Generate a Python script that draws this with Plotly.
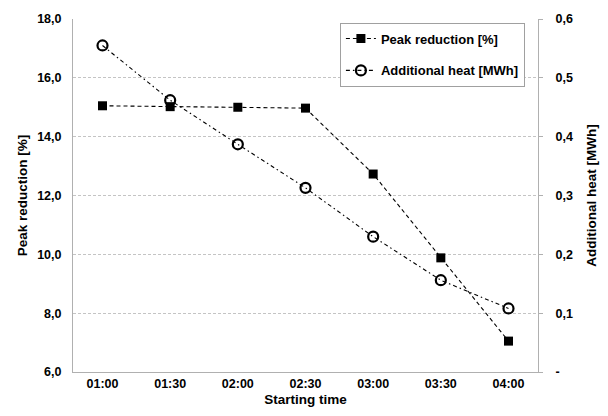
import plotly.graph_objects as go

categories = ["01:00", "01:30", "02:00", "02:30", "03:00", "03:30", "04:00"]
peak_reduction = [15.05, 15.02, 15.0, 14.97, 12.73, 9.88, 7.05]
additional_heat = [0.555, 0.462, 0.387, 0.313, 0.230, 0.156, 0.108]

left_ticks = [6, 8, 10, 12, 14, 16, 18]
left_ticktext = ["6,0", "8,0", "10,0", "12,0", "14,0", "16,0", "18,0"]
right_ticks = [0, 0.1, 0.2, 0.3, 0.4, 0.5, 0.6]
right_ticktext = ["-", "0,1", "0,2", "0,3", "0,4", "0,5", "0,6"]

FONT = "Liberation Sans, Arial, sans-serif"

fig = go.Figure()
fig.add_trace(go.Scatter(
    x=categories, y=peak_reduction, name="Peak reduction [%]",
    mode="lines+markers", legendgroup="a",
    line=dict(color="black", width=1.1, dash="4px,3px"),
    marker=dict(symbol="square", size=9, color="black"),
))
fig.add_trace(go.Scatter(
    x=categories, y=additional_heat, name="Additional heat [MWh]",
    mode="lines+markers", yaxis="y2", legendgroup="b",
    line=dict(color="black", width=1.1, dash="4px,3px,1.5px,3px"),
    marker=dict(symbol="circle-open", size=10, color="black", line=dict(width=2.2, color="black")),
))

fig.update_layout(
    width=608, height=416,
    margin=dict(l=73, r=61, t=16, b=44),
    paper_bgcolor="white", plot_bgcolor="white",
    font=dict(family=FONT, size=12, color="black"),
    showlegend=True,
    legend=dict(
        x=0.574, y=0.99, xanchor="left", yanchor="top",
        bordercolor="#a0a0a0", borderwidth=1, bgcolor="white",
        font=dict(family=FONT, size=13, color="black", weight="bold"),
        tracegroupgap=12, itemwidth=30,
    ),
    xaxis=dict(
        type="category", showgrid=False, showline=True, linecolor="#b0b0b0", linewidth=1,
        ticks="", tickfont=dict(family=FONT, size=12.5, weight="bold"),
        title=dict(text="<b>Starting time</b>", font=dict(family=FONT, size=13.5), standoff=4),
        mirror=False,
    ),
    yaxis=dict(
        range=[6, 18], tickvals=left_ticks, ticktext=left_ticktext,
        showgrid=True, gridcolor="#c4c4c4", griddash="3px,2px", gridwidth=1,
        showline=True, linecolor="#b0b0b0", linewidth=1, zeroline=False,
        ticks="", ticklabelstandoff=8,
        tickfont=dict(family=FONT, size=12.5, weight="bold"),
        title=dict(text="<b>Peak reduction [%]</b>", font=dict(family=FONT, size=13.5), standoff=6),
    ),
    yaxis2=dict(
        overlaying="y", side="right", range=[0, 0.6],
        tickvals=right_ticks, ticktext=right_ticktext,
        showgrid=False, showline=True, linecolor="#b0b0b0", linewidth=1, zeroline=False,
        ticks="outside", ticklen=4, tickcolor="#b0b0b0", ticklabelstandoff=10,
        tickfont=dict(family=FONT, size=12.5, weight="bold"),
        title=dict(text="<b>Additional heat [MWh]</b>", font=dict(family=FONT, size=13.5), standoff=14),
    ),
)

fig.write_html("out.html")
